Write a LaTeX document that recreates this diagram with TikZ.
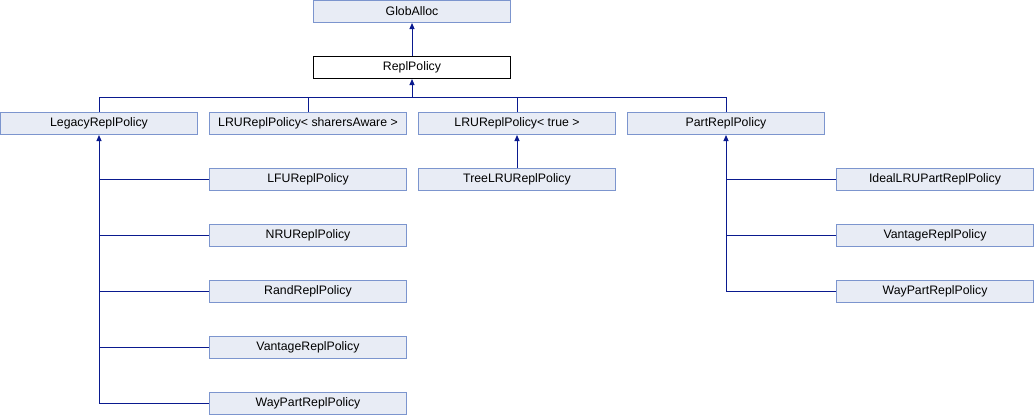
\documentclass[tikz,border=0pt]{standalone}
\usepackage{fontspec}
\setmainfont{Liberation Sans}
\usetikzlibrary{arrows.meta}
\definecolor{boxfill}{HTML}{E8ECF5}
\definecolor{boxline}{HTML}{7C95CE}
\definecolor{edgecol}{HTML}{0A1A8F}
\tikzset{
  cls/.style={draw=boxline, fill=boxfill, line width=1pt, minimum width=197pt, minimum height=22pt, inner sep=0pt, font=\fontsize{12.3}{14}\selectfont},
  cur/.style={cls, draw=black, fill=white},
  edge/.style={draw=edgecol, line width=1pt},
  arr/.style={edge, -{Triangle[length=6pt,width=5pt]}}
}
\begin{document}
\begin{tikzpicture}[x=1pt,y=-1pt]
\useasboundingbox (0,0) rectangle (1035,416);
\node[cls] (glob) at (412,11.5) {GlobAlloc};
\node[cur] (repl) at (412,67.5) {ReplPolicy};
\node[cls] (legacy) at (99,123.5) {LegacyReplPolicy};
\node[cls] (lrus) at (308,123.5) {LRUReplPolicy< sharersAware >};
\node[cls] (lrut) at (517,123.5) {LRUReplPolicy< true >};
\node[cls] (part) at (726,123.5) {PartReplPolicy};
\node[cls] (lfu) at (308,179.5) {LFUReplPolicy};
\node[cls] (nru) at (308,235.5) {NRUReplPolicy};
\node[cls] (rand) at (308,291.5) {RandReplPolicy};
\node[cls] (vantl) at (308,347.5) {VantageReplPolicy};
\node[cls] (wayl) at (308,403.5) {WayPartReplPolicy};
\node[cls] (tree) at (517,179.5) {TreeLRUReplPolicy};
\node[cls] (ideal) at (935,179.5) {IdealLRUPartReplPolicy};
\node[cls] (vantr) at (935,235.5) {VantageReplPolicy};
\node[cls] (wayr) at (935,291.5) {WayPartReplPolicy};
% GlobAlloc <- ReplPolicy
\draw[arr] (repl.north) -- (glob.south);
% bus under ReplPolicy
\coordinate (bus) at (412,97);
\draw[arr] (bus) -- (repl.south);
\draw[edge] (legacy.north) |- (bus);
\draw[edge] (part.north) |- (bus);
\draw[edge] (lrus.north) -- (lrus.north |- bus);
\draw[edge] (lrut.north) -- (lrut.north |- bus);
% LRU<true> <- TreeLRU
\draw[arr] (tree.north) -- (lrut.south);
% Legacy trunk
\coordinate (ltrunk) at (legacy.south |- wayl.west);
\draw[arr] (ltrunk) -- (legacy.south);
\foreach \n in {lfu,nru,rand,vantl,wayl}
  \draw[edge] (\n.west) -- (\n.west -| legacy.south);
% Part trunk
\coordinate (ptrunk) at (part.south |- wayr.west);
\draw[arr] (ptrunk) -- (part.south);
\foreach \n in {ideal,vantr,wayr}
  \draw[edge] (\n.west) -- (\n.west -| part.south);
\end{tikzpicture}
\end{document}
